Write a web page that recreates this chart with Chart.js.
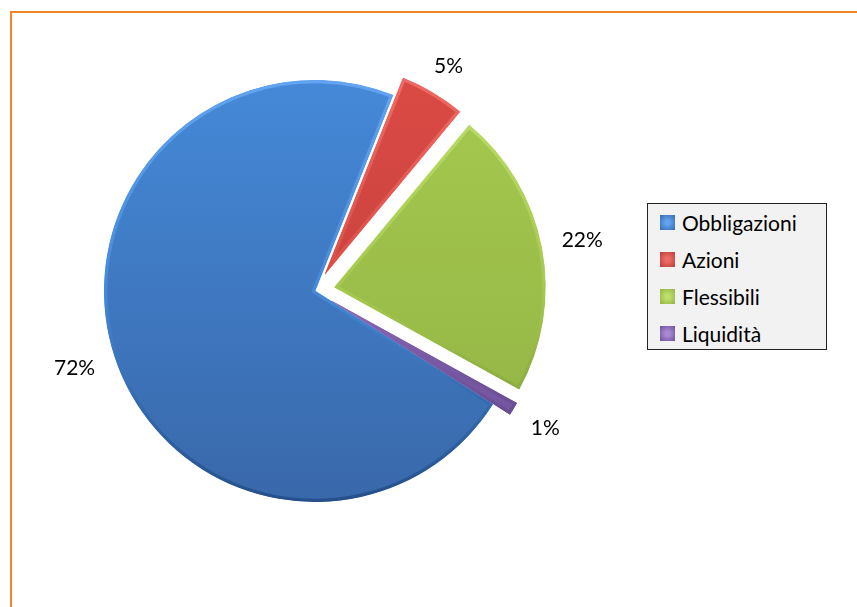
<!DOCTYPE html>
<html>
<head>
<meta charset="utf-8">
<script src="https://cdn.jsdelivr.net/npm/chart.js@4/dist/chart.umd.min.js"></script>
<style>
  html, body { margin: 0; padding: 0; background: #fff; overflow: hidden; }
  body { width: 857px; height: 607px; position: relative; font-family: Lato, "Open Sans", sans-serif; }
  .frame {
    position: absolute; left: 10px; top: 11px; width: 900px; height: 700px;
    border-left: 2px solid #ee842c; border-top: 2px solid #ee842c;
  }
  #pie { position: absolute; left: 0; top: 0; }
  .legend {
    position: absolute; left: 647px; top: 203px; width: 178px; height: 145px;
    background: #f2f2f2; border: 1px solid #222; box-sizing: content-box;
  }
  .legend .item {
    position: absolute; left: 12px; height: 24px; display: flex; align-items: center;
    font-size: 21px; color: #000; white-space: nowrap;
  }
  .legend .swatch { width: 15px; height: 15px; margin-right: 7px; }
</style>
</head>
<body>
<div class="frame"></div>
<canvas id="pie" width="857" height="607"></canvas>
<div class="legend" id="legend"></div>
<script>
const categories = ["Obbligazioni", "Azioni", "Flessibili", "Liquidità"];
const shares = [72, 5, 22, 1];

// fill tones per slice: top, bottom; then rim highlight / rim shadow
const tones = [
  ["#4589d8", "#3968aa", "#62a4f2", "#254f8a"],
  ["#db4a45", "#b93d39", "#ef6a64", "#8e2b28"],
  ["#a5c94f", "#92b244", "#bddf6a", "#6e8a30"],
  ["#8d6bbb", "#6d4f97", "#a98ad6", "#4f3575"]
];

const R = 211;

function vertical(ctx, a, b, mid) {
  const area = ctx.chart.chartArea;
  if (!area) return a;
  const cy = (area.top + area.bottom) / 2;
  const g = ctx.chart.ctx.createLinearGradient(0, cy - R, 0, cy + R);
  g.addColorStop(0, a);
  if (mid) g.addColorStop(0.5, mid);
  g.addColorStop(1, b);
  return g;
}

const sliceFill = (ctx) => {
  const t = tones[ctx.dataIndex];
  return vertical(ctx, t[0], t[1]);
};

const sliceRim = (ctx) => {
  const t = tones[ctx.dataIndex];
  return vertical(ctx, t[2], t[3], t[0]);
};

// pulls the flagged slices away from the centre, then writes the percentages
const explodeSlices = {
  id: "explodeSlices",
  beforeDatasetsDraw(chart) {
    const shift = chart.data.datasets[0].explode || [];
    chart.getDatasetMeta(0).data.forEach((arc, i) => {
      const d = shift[i] || 0;
      const mid = (arc.startAngle + arc.endAngle) / 2;
      arc.$home = [arc.x, arc.y];
      arc.x += Math.cos(mid) * d;
      arc.y += Math.sin(mid) * d;
    });
  },
  afterDatasetsDraw(chart) {
    const ctx = chart.ctx;
    const shift = chart.data.datasets[0].explode || [];
    ctx.save();
    ctx.font = "21px Lato";
    ctx.fillStyle = "#000";
    ctx.textAlign = "center";
    ctx.textBaseline = "middle";
    chart.getDatasetMeta(0).data.forEach((arc, i) => {
      if (arc.$home) { arc.x = arc.$home[0]; arc.y = arc.$home[1]; }
      const mid = (arc.startAngle + arc.endAngle) / 2;
      const text = shares[i] + "%";
      const hw = ctx.measureText(text).width / 2, hh = 9;
      const dx = Math.cos(mid), dy = Math.sin(mid);
      const fit = Math.min(
        Math.abs(dx) > 1e-6 ? hw / Math.abs(dx) : Infinity,
        Math.abs(dy) > 1e-6 ? hh / Math.abs(dy) : Infinity
      );
      const d = arc.outerRadius + (shift[i] || 0) + 20 + fit;
      ctx.fillText(text, arc.x + dx * d, arc.y + dy * d);
    });
    ctx.restore();
  }
};

new Chart(document.getElementById("pie"), {
  type: "pie",
  data: {
    labels: categories,
    datasets: [{
      data: shares,
      backgroundColor: sliceFill,
      borderColor: sliceRim,
      borderWidth: 3,
      borderAlign: "inner",
      explode: [0, 20, 20, 20]
    }]
  },
  options: {
    responsive: false,
    animation: false,
    rotation: 122.5,
    radius: R,
    layout: { padding: { left: 0, top: 0, right: 227, bottom: 25 } },
    plugins: { legend: { display: false }, tooltip: { enabled: false } }
  },
  plugins: [explodeSlices]
});

// legend box
const legend = document.getElementById("legend");
categories.forEach((name, i) => {
  const row = document.createElement("div");
  row.className = "item";
  row.style.top = (6 + i * 37) + "px";
  const sw = document.createElement("span");
  sw.className = "swatch";
  sw.style.background = "radial-gradient(circle, " + tones[i][2] + " 20%, " + tones[i][1] + ")";
  row.appendChild(sw);
  row.appendChild(document.createTextNode(name));
  legend.appendChild(row);
});
</script>
</body>
</html>
